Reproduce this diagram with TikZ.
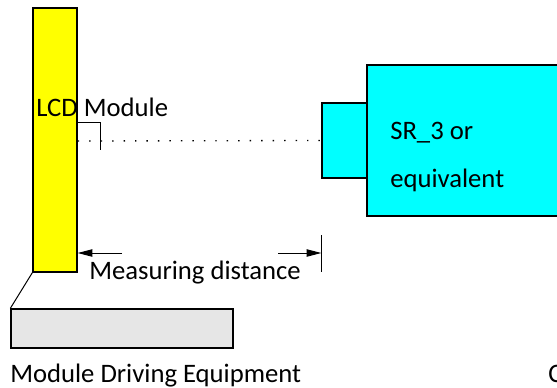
\documentclass[tikz,border=0pt]{standalone}
\usepackage{fontspec}
\setmainfont{Carlito}
\usetikzlibrary{arrows.meta}

\definecolor{lcdyellow}{RGB}{255,255,0}
\definecolor{metercyan}{RGB}{0,255,255}
\definecolor{drivergray}{RGB}{230,230,230}

\tikzset{
  part/.style={draw=black,line width=1pt,rectangle,inner sep=0pt},
  txt/.style={inner sep=0pt,anchor=base west,font=\fontsize{20}{24}\selectfont},
  dimline/.style={-{Triangle[length=11pt,width=5.5pt]},line width=0.75pt},
  thinline/.style={line width=0.75pt}
}

\begin{document}
\begin{tikzpicture}[x=0.75pt,y=-0.75pt]

\useasboundingbox (0,0) rectangle (557,387);

% LCD module and driving equipment
\node[part,fill=lcdyellow,minimum width=33pt,minimum height=198pt] (lcd) at (55,140) {};
\node[part,fill=drivergray,minimum width=166.5pt,minimum height=29.25pt] (driver) at (122,328.5) {};
\draw[thinline] (lcd.south west) -- (driver.north west);

% measuring instrument
\node[part,fill=metercyan,minimum width=174.75pt,minimum height=113.25pt] (meter) at (483.5,140.5) {};
\node[part,fill=metercyan,minimum width=33.75pt,minimum height=56.25pt] (head) at (344.5,140.5) {};

% spot mark and axis
\draw[thinline] (lcd.east |- 0,122) -- (100,122) -- (100,150);
\draw[line width=1pt,dash pattern=on 1.1pt off 7.5pt] (lcd.east |- 0,141) -- (head.west);

% measuring distance
\coordinate (dimL) at (122,253);
\coordinate (dimR) at (278,253);
\draw[dimline] (dimL) -- (lcd.east |- dimL);
\draw[dimline] (dimR) -- (head.west |- dimR);
\draw[thinline] (head.west |- 0,235) -- (head.west |- 0,272);

% texts
\node[txt] (lcdtext) at (36,116) {LCD Module};
\node[txt] (srtext) at (390,139) {SR\_3 or};
\node[txt] (eqtext) at (390,187) {equivalent};
\node[txt] (meastext) at (89,279) {Measuring distance};
\node[txt] (drvtext) at (10,382) {Module Driving Equipment};
\node[txt] (pctext) at (548,382) {C};

\end{tikzpicture}
\end{document}
